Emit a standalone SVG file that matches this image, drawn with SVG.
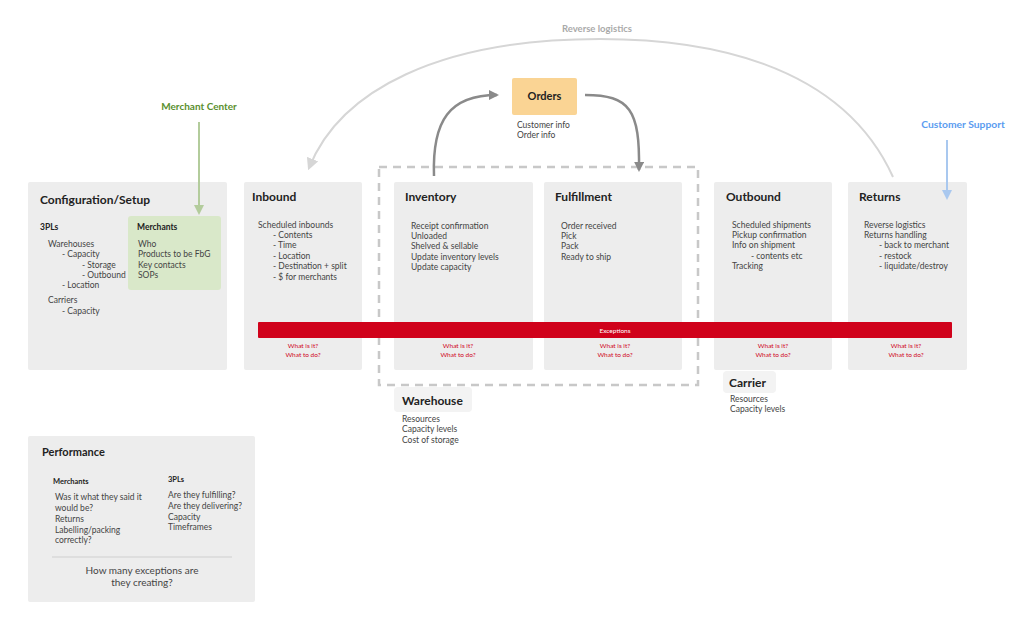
<svg xmlns="http://www.w3.org/2000/svg" width="1018" height="625" viewBox="0 0 1018 625">
<defs>
<style>
.box{fill:#ededed}
.t{font-family:Lato,"Open Sans","Liberation Sans",sans-serif;font-weight:bold;font-size:12px;fill:#222}
.s{font-family:Lato,"Open Sans","Liberation Sans",sans-serif;font-weight:bold;font-size:8.5px;fill:#222}
.b{font-family:Lato,"Open Sans","Liberation Sans",sans-serif;font-size:8.5px;fill:#444}
.r{font-family:Lato,"Open Sans","Liberation Sans",sans-serif;font-size:6.5px;fill:#d0021b;text-anchor:middle}
</style>
<marker id="ag" viewBox="0 0 10 10" refX="8" refY="5" markerWidth="4" markerHeight="4" orient="auto"><path d="M0,0L10,5L0,10z" fill="#8a8a8a"/></marker>
<marker id="al" viewBox="0 0 10 10" refX="8" refY="5" markerWidth="6" markerHeight="6" orient="auto"><path d="M0,0L10,5L0,10z" fill="#d6d6d6"/></marker>
<marker id="agr" viewBox="0 0 10 10" refX="8" refY="5" markerWidth="5" markerHeight="5" orient="auto"><path d="M0,0L10,5L0,10z" fill="#b3cc9c"/></marker>
<marker id="abl" viewBox="0 0 10 10" refX="8" refY="5" markerWidth="5" markerHeight="5" orient="auto"><path d="M0,0L10,5L0,10z" fill="#a9c8ef"/></marker>
</defs>

<g id="warehouse-group">
<rect x="379" y="167" width="319" height="218" fill="none" stroke="#c8c8c8" stroke-width="2.5" stroke-dasharray="8,6"/>
</g>

<g id="config">
<rect class="box" x="28" y="182" width="199" height="188" rx="2"/>
<text class="t" x="40" y="204">Configuration/Setup</text>
<text class="s" x="40" y="230">3PLs</text>
<text class="b" x="48" y="247">Warehouses</text>
<text class="b" x="62" y="257">- Capacity</text>
<text class="b" x="82" y="268">- Storage</text>
<text class="b" x="82" y="278">- Outbound</text>
<text class="b" x="62" y="288">- Location</text>
<text class="b" x="48" y="303">Carriers</text>
<text class="b" x="62" y="314">- Capacity</text>
</g>
<g id="merchants">
<rect x="128" y="216" width="93" height="74" rx="3" fill="#d9e8c9"/>
<text class="s" x="137" y="230">Merchants</text>
<text class="b" x="138" y="247">Who</text>
<text class="b" x="138" y="257">Products to be FbG</text>
<text class="b" x="138" y="268">Key contacts</text>
<text class="b" x="138" y="278">SOPs</text>
</g>

<g id="inbound">
<rect class="box" x="244" y="182" width="118" height="188" rx="2"/>
<text class="t" x="252" y="201">Inbound</text>
<text class="b" x="258" y="228">Scheduled inbounds</text>
<text class="b" x="273" y="238">- Contents</text>
<text class="b" x="273" y="248">- Time</text>
<text class="b" x="273" y="259">- Location</text>
<text class="b" x="273" y="269">- Destination + split</text>
<text class="b" x="273" y="280">- $ for merchants</text>
<text class="r" x="303" y="348">What is it?</text>
<text class="r" x="303" y="357">What to do?</text>
</g>

<g id="inventory">
<rect class="box" x="394" y="182" width="139" height="188" rx="2"/>
<text class="t" x="405" y="201">Inventory</text>
<text class="b" x="411" y="229">Receipt confirmation</text>
<text class="b" x="411" y="239">Unloaded</text>
<text class="b" x="411" y="249">Shelved &amp; sellable</text>
<text class="b" x="411" y="260">Update inventory levels</text>
<text class="b" x="411" y="270">Update capacity</text>
<text class="r" x="458" y="348">What is it?</text>
<text class="r" x="458" y="357">What to do?</text>
</g>

<g id="fulfillment">
<rect class="box" x="544" y="182" width="138" height="188" rx="2"/>
<text class="t" x="555" y="201">Fulfillment</text>
<text class="b" x="561" y="229">Order received</text>
<text class="b" x="561" y="239">Pick</text>
<text class="b" x="561" y="249">Pack</text>
<text class="b" x="561" y="260">Ready to ship</text>
<text class="r" x="615" y="348">What is it?</text>
<text class="r" x="615" y="357">What to do?</text>
</g>

<g id="outbound">
<rect class="box" x="714" y="182" width="118" height="188" rx="2"/>
<text class="t" x="726" y="201">Outbound</text>
<text class="b" x="732" y="228">Scheduled shipments</text>
<text class="b" x="732" y="238">Pickup confirmation</text>
<text class="b" x="732" y="248">Info on shipment</text>
<text class="b" x="751" y="259">- contents etc</text>
<text class="b" x="732" y="269">Tracking</text>
<text class="r" x="773" y="348">What is it?</text>
<text class="r" x="773" y="357">What to do?</text>
</g>

<g id="returns">
<rect class="box" x="848" y="182" width="119" height="188" rx="2"/>
<text class="t" x="859" y="201">Returns</text>
<text class="b" x="864" y="228">Reverse logistics</text>
<text class="b" x="864" y="238">Returns handling</text>
<text class="b" x="879" y="248">- back to merchant</text>
<text class="b" x="879" y="259">- restock</text>
<text class="b" x="879" y="269">- liquidate/destroy</text>
<text class="r" x="906" y="348">What is it?</text>
<text class="r" x="906" y="357">What to do?</text>
</g>

<g id="exceptions">
<rect x="258" y="322" width="694" height="16" rx="1" fill="#d0021b"/>
<text x="615" y="332.5" font-family="Lato,'Liberation Sans',sans-serif" font-size="6.5" fill="#fff" text-anchor="middle">Exceptions</text>
</g>

<g id="warehouse">
<rect x="394" y="387" width="78" height="25" rx="4" fill="#f3f3f3"/>
<text class="t" x="402" y="405">Warehouse</text>
<text class="b" x="402" y="422">Resources</text>
<text class="b" x="402" y="432">Capacity levels</text>
<text class="b" x="402" y="443">Cost of storage</text>
</g>

<g id="carrier">
<rect x="723" y="371" width="53" height="22" rx="4" fill="#f3f3f3"/>
<text class="t" x="729" y="387">Carrier</text>
<text class="b" x="730" y="402">Resources</text>
<text class="b" x="730" y="412">Capacity levels</text>
</g>

<g id="orders">
<rect x="512" y="78" width="65" height="37" rx="2" fill="#fad494"/>
<text class="t" x="544.5" y="100" text-anchor="middle" style="font-size:11px">Orders</text>
<text class="b" x="517" y="128">Customer info</text>
<text class="b" x="517" y="138">Order info</text>
</g>

<g id="performance">
<rect class="box" x="28" y="436" width="227" height="166" rx="2"/>
<text class="t" x="42" y="456" style="font-size:11px">Performance</text>
<text class="s" x="53" y="484" style="font-size:7.5px">Merchants</text>
<text class="b" x="55" y="500">Was it what they said it</text>
<text class="b" x="55" y="511">would be?</text>
<text class="b" x="55" y="522">Returns</text>
<text class="b" x="55" y="533">Labelling/packing</text>
<text class="b" x="55" y="543">correctly?</text>
<text class="s" x="168" y="482" style="font-size:7.5px">3PLs</text>
<text class="b" x="168" y="498">Are they fulfilling?</text>
<text class="b" x="168" y="509">Are they delivering?</text>
<text class="b" x="168" y="520">Capacity</text>
<text class="b" x="168" y="530">Timeframes</text>
<line x1="52" y1="557" x2="232" y2="557" stroke="#cfcfcf" stroke-width="1"/>
<text class="b" x="142" y="574" text-anchor="middle" style="font-size:10px">How many exceptions are</text>
<text class="b" x="142" y="586" text-anchor="middle" style="font-size:10px">they creating?</text>
</g>

<g id="labels">
<text x="597" y="32" font-family="Lato,'Liberation Sans',sans-serif" font-weight="bold" font-size="9.5" fill="#aaaaaa" text-anchor="middle">Reverse logistics</text>
<text x="199" y="110" font-family="Lato,'Liberation Sans',sans-serif" font-weight="bold" font-size="10" fill="#5a8f2e" text-anchor="middle">Merchant Center</text>
<text x="963" y="128" font-family="Lato,'Liberation Sans',sans-serif" font-weight="bold" font-size="10.3" fill="#5b9cf0" text-anchor="middle">Customer Support</text>
</g>

<g id="connectors" fill="none">
<path d="M434,176 C432,120 450,95 497,95" stroke="#8a8a8a" stroke-width="2.5" marker-end="url(#ag)"/>
<path d="M585,95 C630,95 640,110 639,170" stroke="#8a8a8a" stroke-width="2.5" marker-end="url(#ag)"/>
<path d="M893,177 C840,60 700,39 600,39 C440,39 340,90 309,168" stroke="#d6d6d6" stroke-width="2" marker-end="url(#al)"/>
<path d="M199,122 L199,213" stroke="#b3cc9c" stroke-width="2" marker-end="url(#agr)"/>
<path d="M947,140 L947,198" stroke="#a9c8ef" stroke-width="2" marker-end="url(#abl)"/>
</g>
</svg>
